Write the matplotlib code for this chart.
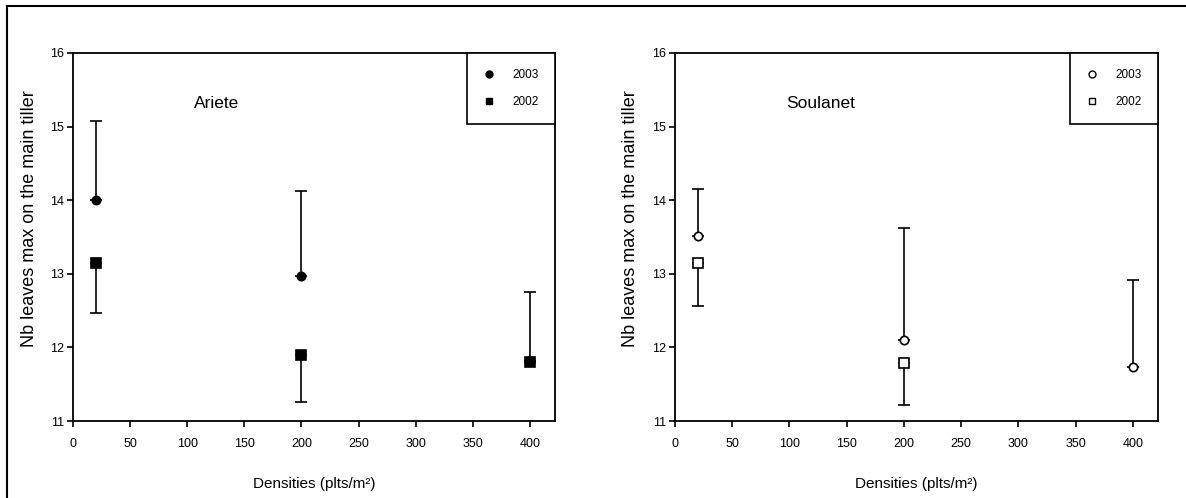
import numpy as np
from matplotlib import pyplot as plt
from matplotlib.lines import Line2D

# ======================data======================
density = [20, 200, 400]

# Ariete
ariete_2003 = [14.0, 12.97, 11.82]
ariete_2003_err = [1.08, 1.16, 0.93]
ariete_2002 = [13.15, 11.9, 11.8]
ariete_2002_err = [0.68, 0.64, 0.0]

# Soulanet
soul_dens_2002 = [20, 200]
soul_2003 = [13.51, 12.1, 11.74]
soul_2003_err = [0.64, 1.52, 1.17]
soul_2002 = [13.15, 11.79]
soul_2002_err = [0.59, 0.57]

xticks = [0, 50, 100, 150, 200, 250, 300, 350, 400]
yticks = [11, 12, 13, 14, 15, 16]

plt.rcParams['font.family'] = ['Liberation Sans', 'DejaVu Sans']

fig = plt.figure(figsize=(11.86, 4.98), dpi=100)
ax1 = fig.add_axes([0.0616, 0.1546, 0.4064, 0.739])
ax2 = fig.add_axes([0.5690, 0.1546, 0.4074, 0.739])

# outer frame (top + left)
fig.add_artist(Line2D([7 / 1186, 1.0], [1 - 6 / 498, 1 - 6 / 498], color='black', lw=1.5))
fig.add_artist(Line2D([7 / 1186, 7 / 1186], [0, 1 - 6 / 498], color='black', lw=1.5))


def errbar(ax, x, y, err, upper, face, marker, ms):
    err = np.array(err)
    zero = np.zeros_like(err)
    yerr = [zero, err] if upper else [err, zero]
    ax.errorbar(x, y, yerr=yerr, fmt='none', ecolor='black', elinewidth=1.2,
                capsize=4, capthick=1.2, zorder=2)
    ax.plot(x, y, linestyle='none', marker=marker, ms=ms, mfc=face, mec='black',
            mew=1.2, zorder=3)


def style(ax, name, name_x):
    ax.set_xlim(0, 422)
    ax.set_ylim(11, 16)
    ax.set_xticks(xticks)
    ax.set_yticks(yticks)
    ax.tick_params(direction='out', length=4.5, width=1.2, labelsize=9)
    ax.tick_params(axis='x', pad=8)
    ax.tick_params(axis='y', pad=2)
    for s in ax.spines.values():
        s.set_linewidth(1.3)
    ax.set_xlabel('Densities (plts/m²)', fontsize=11, labelpad=19)
    ax.set_ylabel('Nb leaves max on the main tiller', fontsize=13, labelpad=9)
    ax.yaxis.label.set_y(0.55)
    ax.text(name_x, 15.32, name, fontsize=12.5, va='center', ha='left')


errbar(ax1, density, ariete_2003, ariete_2003_err, True, 'black', 'o', 6)
errbar(ax1, density, ariete_2002, ariete_2002_err, False, 'black', 's', 7)
style(ax1, 'Ariete', 106)

errbar(ax2, density, soul_2003, soul_2003_err, True, 'white', 'o', 6)
errbar(ax2, soul_dens_2002, soul_2002, soul_2002_err, False, 'white', 's', 7)
style(ax2, 'Soulanet', 97)

for ax, face in [(ax1, 'black'), (ax2, 'white')]:
    h = [Line2D([], [], ls='none', marker='o', ms=5, mfc=face, mec='black', mew=1),
         Line2D([], [], ls='none', marker='s', ms=5, mfc=face, mec='black', mew=1)]
    leg = ax.legend(h, ['2003', '2002'], loc='upper right', borderaxespad=0,
                    fancybox=False, edgecolor='black', framealpha=1, fontsize=8.5,
                    borderpad=1.35, labelspacing=1.3, handletextpad=1.5,
                    handlelength=1.0)
    leg.get_frame().set_linewidth(1.2)

fig.savefig('out.png', dpi=100)
